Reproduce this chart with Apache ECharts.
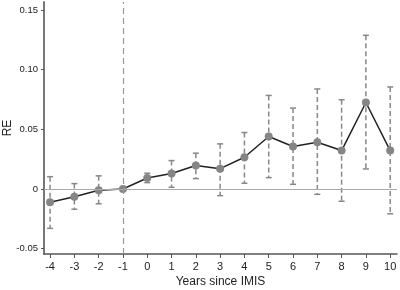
<!DOCTYPE html>
<html lang="en">
<head>
	<meta charset="UTF-8">
	<title>RE by years since IMIS</title>
	<script src="https://cdn.jsdelivr.net/npm/echarts@6/dist/echarts.min.js"></script>
	<style>
		html, body { margin: 0; padding: 0; background: #fff; }
		#chart { width: 400px; height: 290px; }
	</style>
</head>
<body>
	<div id="chart"></div>
	<script>
		// data
		var years = [-4, -3, -2, -1, 0, 1, 2, 3, 4, 5, 6, 7, 8, 9, 10];
		var estimate = [-0.0112, -0.0065, -0.0011, 0, 0.0092, 0.0129, 0.0196, 0.0170, 0.0266, 0.0440, 0.0356, 0.0392, 0.0322, 0.0725, 0.0322];
		var ciUpper = [0.0103, 0.0045, 0.0110, null, 0.0132, 0.0238, 0.0300, 0.0378, 0.0473, 0.0784, 0.0678, 0.0838, 0.0748, 0.1288, 0.0855];
		var ciLower = [-0.0330, -0.0170, -0.0124, null, 0.0053, 0.0014, 0.0087, -0.0056, 0.0048, 0.0095, 0.0039, -0.0045, -0.0103, 0.0168, -0.0208];
		var yTicks = [-0.05, 0, 0.05, 0.10, 0.15];
		var yTickLabels = ['-0.05', '0', '0.05', '0.10', '0.15'];

		var lineData = years.map(function (y, i) { return [y, estimate[i]]; });
		var barData = [];
		years.forEach(function (y, i) {
			if (ciUpper[i] !== null) barData.push([y, ciLower[i], ciUpper[i]]);
		});

		// dashed error bar with small caps
		function renderBar(params, api) {
			var lo = api.coord([api.value(0), api.value(1)]);
			var hi = api.coord([api.value(0), api.value(2)]);
			var w = 3;
			var st = { stroke: '#888', lineWidth: 1.5 };
			return {
				type: 'group',
				children: [
					{ type: 'line', shape: { x1: hi[0], y1: hi[1], x2: lo[0], y2: lo[1] },
					  style: { stroke: '#888', lineWidth: 1.5, lineDash: [5, 3] } },
					{ type: 'line', shape: { x1: hi[0] - w, y1: hi[1], x2: hi[0] + w, y2: hi[1] }, style: st },
					{ type: 'line', shape: { x1: lo[0] - w, y1: lo[1], x2: lo[0] + w, y2: lo[1] }, style: st }
				]
			};
		}

		var myChart = echarts.init(document.getElementById('chart'));
		var option = {
			animation: false,
			textStyle: { fontFamily: 'Liberation Sans, Arial, sans-serif' },
			grid: { left: 44, right: 3, top: 2, bottom: 36, outerBoundsMode: 'none', containLabel: false },
			xAxis: {
				type: 'value',
				min: -4.25,
				max: 10.28,
				name: 'Years since IMIS',
				nameLocation: 'middle',
				nameGap: 22,
				nameMoveOverlap: false,
				nameTextStyle: { fontSize: 12, color: '#222' },
				splitLine: { show: false },
				axisLine: { show: true, onZero: false, lineStyle: { color: '#555', width: 1.5 } },
				axisTick: { show: true, length: 4, lineStyle: { color: '#555' }, customValues: years },
				axisLabel: { fontSize: 11, color: '#222', margin: 7, customValues: years }
			},
			yAxis: {
				type: 'value',
				min: -0.0545,
				max: 0.1567,
				name: 'RE',
				nameLocation: 'middle',
				nameGap: 30,
				nameMoveOverlap: false,
				nameTextStyle: { fontSize: 12, color: '#222' },
				splitLine: { show: false },
				axisLine: { show: true, onZero: false, lineStyle: { color: '#777', width: 2 } },
				axisTick: { show: true, length: 3, lineStyle: { color: '#555' }, customValues: yTicks },
				axisLabel: {
					fontSize: 9.5, color: '#222', margin: 6, customValues: yTicks,
					formatter: function (v) {
						var i = yTicks.findIndex(function (t) { return Math.abs(t - v) < 1e-9; });
						return i >= 0 ? yTickLabels[i] : '';
					}
				}
			},
			series: [
				{
					type: 'line',
					data: [],
					silent: true,
					markLine: {
						symbol: 'none',
						silent: true,
						label: { show: false },
						data: [
							{ yAxis: 0, lineStyle: { color: '#aaa', width: 1, type: 'solid' } },
							{ xAxis: -1, lineStyle: { color: '#999', width: 1.2, type: [6, 4] } }
						]
					}
				},
				{
					type: 'custom',
					renderItem: renderBar,
					data: barData,
					z: 3
				},
				{
					type: 'line',
					data: lineData,
					symbol: 'circle',
					symbolSize: 8,
					lineStyle: { color: '#222', width: 1.5 },
					itemStyle: { color: '#858585' },
					z: 4
				}
			]
		};
		myChart.setOption(option);
	</script>
</body>
</html>
